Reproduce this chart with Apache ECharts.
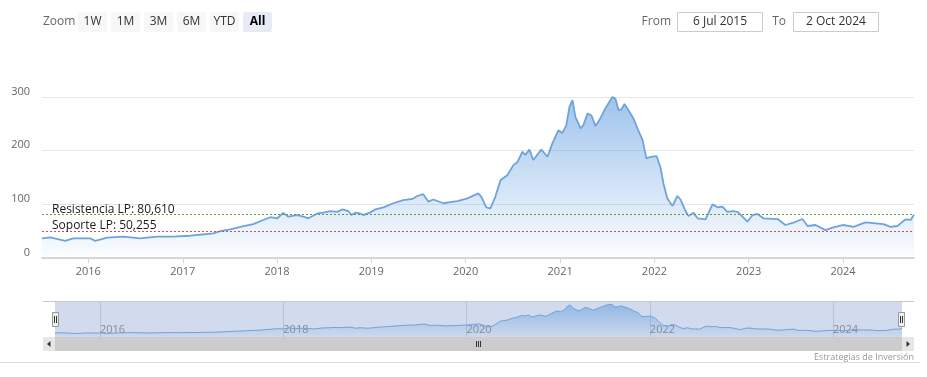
<!DOCTYPE html>
<html>
<head>
<meta charset="utf-8">
<script src="https://cdn.jsdelivr.net/npm/echarts@6/dist/echarts.min.js"></script>
<style>
  html, body { margin: 0; padding: 0; background: #fff; }
  #chart { width: 927px; height: 377px; }
</style>
</head>
<body>
<div id="chart"></div>
<script>
// datos
const dates = [
  '2015-07-06', '2015-08-07', '2015-10-04', '2015-11-04', '2016-01-08', '2016-01-28',
  '2016-03-15', '2016-05-16', '2016-07-20', '2016-09-24', '2016-11-25', '2017-01-30',
  '2017-04-06', '2017-04-29', '2017-05-26', '2017-07-04', '2017-08-12', '2017-10-01',
  '2017-11-09', '2017-12-06', '2018-01-02', '2018-01-25', '2018-02-14', '2018-03-20',
  '2018-04-13', '2018-05-02', '2018-06-06', '2018-06-29', '2018-07-26', '2018-08-22',
  '2018-09-11', '2018-10-04', '2018-10-16', '2018-10-31', '2018-11-19', '2018-12-01',
  '2018-12-28', '2019-01-17', '2019-02-17', '2019-03-27', '2019-05-05', '2019-06-09',
  '2019-06-28', '2019-07-21', '2019-08-10', '2019-08-29', '2019-10-07', '2019-11-03',
  '2019-11-30', '2020-01-08', '2020-02-19', '2020-03-02', '2020-03-21', '2020-04-06',
  '2020-04-25', '2020-05-15', '2020-06-11', '2020-07-04', '2020-07-20', '2020-08-08',
  '2020-08-19', '2020-09-04', '2020-09-19', '2020-10-20', '2020-11-13', '2020-12-02',
  '2020-12-25', '2021-01-10', '2021-01-25', '2021-02-06', '2021-02-18', '2021-03-01',
  '2021-03-21', '2021-04-01', '2021-04-17', '2021-05-02', '2021-05-18', '2021-06-02',
  '2021-06-25', '2021-07-22', '2021-08-03', '2021-08-15', '2021-08-26', '2021-09-07',
  '2021-09-22', '2021-10-12', '2021-10-27', '2021-11-16', '2021-12-01', '2021-12-17',
  '2022-01-09', '2022-01-24', '2022-02-05', '2022-02-20', '2022-03-12', '2022-03-31',
  '2022-04-12', '2022-05-01', '2022-05-13', '2022-06-01', '2022-06-17', '2022-07-18',
  '2022-08-14', '2022-09-02', '2022-09-21', '2022-10-11', '2022-10-30', '2022-11-19',
  '2022-12-08', '2022-12-27', '2023-01-16', '2023-02-04', '2023-02-27', '2023-04-23',
  '2023-05-23', '2023-06-23', '2023-07-28', '2023-08-17', '2023-09-17', '2023-10-25',
  '2023-11-25', '2024-01-03', '2024-02-11', '2024-03-28', '2024-05-06', '2024-06-06',
  '2024-07-03', '2024-07-30', '2024-08-30', '2024-09-19', '2024-10-02'
]
const prices = [
  36.7, 38.5, 32, 36.7, 36.7, 32,
  38, 40, 36.7, 40, 40, 41.5,
  44.7, 46, 50, 53.4, 58, 63,
  70.8, 76, 74, 84, 77, 80,
  77, 74, 83, 84.5, 87.5, 86,
  90.7, 87.5, 80, 84.5, 83, 80,
  85, 90.7, 94.4, 102, 108, 110,
  115.5, 119, 105, 109, 102, 104,
  106, 111, 120.5, 114, 94.4, 92.5,
  114, 145, 154.6, 173, 179, 198,
  192, 202, 182.5, 202, 188.6, 213.5,
  238, 233, 247.7, 281.7, 294, 263,
  241.5, 247.7, 269, 266, 245.8, 257,
  278.7, 300, 297, 275.6, 277, 287,
  275.6, 260, 241.5, 220, 185.6, 188.6,
  190, 170, 139, 111, 97, 115.5,
  109, 88, 78, 84.5, 74, 72,
  100, 94.4, 95.6, 86, 87.5, 86,
  77, 67.6, 80, 82, 74, 72.6,
  61.5, 65.7, 72.6, 59.6, 61.5, 52,
  57, 61.5, 58, 66.5, 64.6, 63,
  58, 59.6, 72, 71, 80.61
]
const resistencia = 80.61
const soporte = 50.255
const yTicks = [0, 100, 200, 300]
const navYears = ['2016-01-01', '2018-01-01', '2020-01-01', '2022-01-01', '2024-01-01']
const rangeButtons = ['1W', '1M', '3M', '6M', 'YTD', 'All']
const fromText = '6 Jul 2015'
const toText = '2 Oct 2024'

const FONT = '"Open Sans", "Noto Sans", sans-serif'
const DAY = 24 * 3600 * 1000
const serie = dates.map((d, i) => [d, prices[i]])
const navTicks = navYears.map(d => +echarts.time.parse(d))

function botones() {
  const els = []
  rangeButtons.forEach((b, i) => {
    const sel = b === 'All'
    els.push({
      type: 'rect',
      shape: { x: 78 + i * 33, y: 12, width: 29, height: 20, r: 2 },
      style: { fill: sel ? '#e6ebf5' : '#f7f7f7' }
    })
    els.push({
      type: 'text',
      x: 78 + i * 33 + 14.5,
      y: 22,
      style: {
        text: b, fill: sel ? '#000' : '#333', fontFamily: FONT, fontSize: 12,
        fontWeight: sel ? 'bold' : 'normal', align: 'center', verticalAlign: 'middle'
      }
    })
  })
  return els
}

const chart = echarts.init(document.getElementById('chart'))
const option = {
  animation: false,
  backgroundColor: '#fff',
  textStyle: { fontFamily: FONT },
  grid: [
    { left: 42, right: 13, top: 97, bottom: 119 },
    { left: 55, right: 25, top: 301, height: 36, show: true, backgroundColor: '#d1dbed', borderWidth: 0 }
  ],
  xAxis: [
    {
      type: 'time',
      min: dates[0],
      max: dates[dates.length - 1],
      minInterval: 365 * DAY,
      maxInterval: 366 * DAY,
      axisLine: { lineStyle: { color: '#d6d6d6', width: 2 } },
      axisTick: { show: true, length: 5, lineStyle: { color: '#d6d6d6' } },
      axisLabel: { formatter: '{yyyy}', color: '#666', fontSize: 11, margin: 8, fontFamily: FONT },
      splitLine: { show: false }
    },
    {
      type: 'time',
      gridIndex: 1,
      min: dates[0],
      max: dates[dates.length - 1],
      axisLine: { show: false },
      axisTick: { show: false, customValues: navTicks },
      axisLabel: {
        inside: true, customValues: navTicks, formatter: '{yyyy}', align: 'left',
        color: '#8a8a8a', fontSize: 11, margin: 2, fontFamily: FONT
      },
      splitLine: { show: true, lineStyle: { color: '#b8c2d6' } }
    }
  ],
  yAxis: [
    {
      type: 'value',
      min: yTicks[0],
      max: yTicks[yTicks.length - 1],
      interval: 100,
      axisLine: { show: false },
      axisTick: { show: false },
      axisLabel: { color: '#666', fontSize: 11, margin: 12, verticalAlign: 'bottom', fontFamily: FONT },
      splitLine: { lineStyle: { color: '#e6e6e6' } }
    },
    { type: 'value', gridIndex: 1, min: 0, max: 330, show: false, splitLine: { show: false } }
  ],
  series: [
    {
      type: 'line',
      data: serie,
      showSymbol: false,
      lineStyle: { color: '#6fa3db', width: 1.8 },
      areaStyle: {
        color: new echarts.graphic.LinearGradient(0, 0, 0, 1, [
          { offset: 0, color: 'rgba(94,156,224,0.85)' },
          { offset: 1, color: 'rgba(94,156,224,0.03)' }
        ])
      },
      markLine: {
        silent: true,
        symbol: 'none',
        animation: false,
        label: {
          position: 'insideStartTop',
          color: '#1a1a1a',
          fontSize: 12,
          fontFamily: FONT,
          distance: -1,
          padding: [0, 0, 0, 11]
        },
        data: [
          { yAxis: resistencia, lineStyle: { color: '#5f9a3c', type: [2, 2], width: 1 }, label: { formatter: 'Resistencia LP: 80,610' } },
          { yAxis: soporte, lineStyle: { color: '#cc5252', type: [2, 2], width: 1 }, label: { formatter: 'Soporte LP: 50,255' } }
        ]
      }
    },
    {
      type: 'line',
      xAxisIndex: 1,
      yAxisIndex: 1,
      data: serie,
      showSymbol: false,
      silent: true,
      lineStyle: { color: '#6fa3db', width: 1 },
      areaStyle: {
        color: new echarts.graphic.LinearGradient(0, 0, 0, 1, [
          { offset: 0, color: 'rgba(94,156,224,0.8)' },
          { offset: 1, color: 'rgba(94,156,224,0.05)' }
        ])
      }
    }
  ],
  graphic: [
    { type: 'text', x: 43, y: 22, style: { text: 'Zoom', fill: '#666', fontFamily: FONT, fontSize: 12, verticalAlign: 'middle' } },
    ...botones(),
    { type: 'text', x: 671, y: 22, style: { text: 'From', fill: '#666', fontFamily: FONT, fontSize: 12, align: 'right', verticalAlign: 'middle' } },
    { type: 'rect', shape: { x: 677.5, y: 12.5, width: 85, height: 19 }, style: { fill: '#fff', stroke: '#cccccc', lineWidth: 1 } },
    { type: 'text', x: 720, y: 22, style: { text: fromText, fill: '#333', fontFamily: FONT, fontSize: 12, align: 'center', verticalAlign: 'middle' } },
    { type: 'text', x: 786, y: 22, style: { text: 'To', fill: '#666', fontFamily: FONT, fontSize: 12, align: 'right', verticalAlign: 'middle' } },
    { type: 'rect', shape: { x: 793.5, y: 12.5, width: 85, height: 19 }, style: { fill: '#fff', stroke: '#cccccc', lineWidth: 1 } },
    { type: 'text', x: 836, y: 22, style: { text: toText, fill: '#333', fontFamily: FONT, fontSize: 12, align: 'center', verticalAlign: 'middle' } },

    // navegador
    { type: 'line', z: 50, shape: { x1: 43, y1: 301.5, x2: 914, y2: 301.5 }, style: { stroke: '#c8c8c8', lineWidth: 1 } },
    { type: 'rect', z: 50, shape: { x: 52.5, y: 312.5, width: 6, height: 14 }, style: { fill: '#f2f2f2', stroke: '#999', lineWidth: 1 } },
    { type: 'line', z: 51, shape: { x1: 54.5, y1: 316, x2: 54.5, y2: 323 }, style: { stroke: '#333', lineWidth: 1 } },
    { type: 'line', z: 51, shape: { x1: 56.5, y1: 316, x2: 56.5, y2: 323 }, style: { stroke: '#333', lineWidth: 1 } },
    { type: 'rect', z: 50, shape: { x: 898.5, y: 312.5, width: 6, height: 14 }, style: { fill: '#f2f2f2', stroke: '#999', lineWidth: 1 } },
    { type: 'line', z: 51, shape: { x1: 900.5, y1: 316, x2: 900.5, y2: 323 }, style: { stroke: '#333', lineWidth: 1 } },
    { type: 'line', z: 51, shape: { x1: 902.5, y1: 316, x2: 902.5, y2: 323 }, style: { stroke: '#333', lineWidth: 1 } },

    // barra de desplazamiento
    { type: 'rect', z: 50, shape: { x: 43, y: 337, width: 871, height: 14 }, style: { fill: '#cccccc' } },
    { type: 'rect', z: 51, shape: { x: 43, y: 337, width: 12, height: 14 }, style: { fill: '#e6e6e6' } },
    { type: 'rect', z: 51, shape: { x: 902, y: 337, width: 12, height: 14 }, style: { fill: '#e6e6e6' } },
    { type: 'polygon', z: 52, shape: { points: [[47, 344], [50.5, 341], [50.5, 347]] }, style: { fill: '#333' } },
    { type: 'polygon', z: 52, shape: { points: [[910, 344], [906.5, 341], [906.5, 347]] }, style: { fill: '#333' } },
    { type: 'line', z: 52, shape: { x1: 476.5, y1: 341, x2: 476.5, y2: 347 }, style: { stroke: '#333', lineWidth: 1 } },
    { type: 'line', z: 52, shape: { x1: 478.5, y1: 341, x2: 478.5, y2: 347 }, style: { stroke: '#333', lineWidth: 1 } },
    { type: 'line', z: 52, shape: { x1: 480.5, y1: 341, x2: 480.5, y2: 347 }, style: { stroke: '#333', lineWidth: 1 } },

    { type: 'text', x: 914, y: 357, style: { text: 'Estrategias de Inversión', fill: '#999', fontFamily: FONT, fontSize: 9, align: 'right', verticalAlign: 'middle' } },
    { type: 'line', shape: { x1: 0, y1: 362.5, x2: 920, y2: 362.5 }, style: { stroke: '#dddddd', lineWidth: 1 } }
  ]
}
chart.setOption(option)
window.onresize = chart.resize
</script>
</body>
</html>
